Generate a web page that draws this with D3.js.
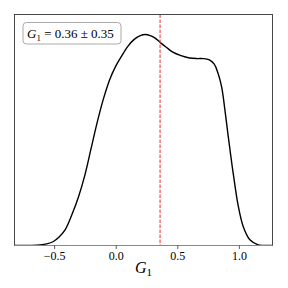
<!DOCTYPE html>
<html lang="en">
<head>
<meta charset="UTF-8">
<title>G1 KDE</title>
<script src="https://d3js.org/d3.v7.min.js"></script>
<style>
  body { margin: 0; background: #fff; }
</style>
</head>
<body>
<script>
// KDE curve of G1 (relative to the peak)
const gx = [-0.82, -0.75, -0.68, -0.614, -0.56, -0.506, -0.46, -0.41, -0.35, -0.3, -0.25, -0.2, -0.15,
  -0.1, -0.05, 0.0, 0.05, 0.1, 0.15, 0.2, 0.24, 0.28, 0.32, 0.36, 0.41, 0.46, 0.53, 0.6, 0.66, 0.71, 0.76,
  0.8, 0.83, 0.86, 0.886, 0.913, 0.94, 0.968, 0.994, 1.035, 1.089, 1.157, 1.2, 1.273];
const gy = [0, 0, 0.0005, 0.003, 0.008, 0.019, 0.04, 0.075, 0.155, 0.235, 0.335, 0.46, 0.585,
  0.695, 0.785, 0.85, 0.9, 0.945, 0.977, 0.995, 1.0, 0.995, 0.983, 0.963, 0.94, 0.918, 0.9, 0.889, 0.886, 0.886, 0.88,
  0.86, 0.818, 0.752, 0.645, 0.52, 0.4, 0.285, 0.19, 0.09, 0.027, 0.003, 0.0005, 0];
const peak = 0.95;
const meanG = 0.36, sdG = 0.35;
const xTicks = [-0.5, 0.0, 0.5, 1.0];

const W = 288, H = 288;
const m = {left: 14.5, right: 15.5, top: 14.5, bottom: 42.5};

const svg = d3.select('body').append('svg').attr('width', W).attr('height', H);

const x = d3.scaleLinear().domain([-0.822, 1.273]).range([m.left, W - m.right]);
const y = d3.scaleLinear().domain([0, 1.095 * peak]).range([H - m.bottom, m.top]);

const pts = gx.map((v, i) => ({x: v, y: gy[i] * peak}));

svg.append('defs').append('clipPath').attr('id', 'clip')
  .append('rect').attr('x', m.left).attr('y', m.top)
  .attr('width', W - m.left - m.right).attr('height', H - m.top - m.bottom);

const line = d3.line().x(d => x(d.x)).y(d => y(d.y)).curve(d3.curveCatmullRom.alpha(0.5));

svg.append('path').datum(pts)
  .attr('clip-path', 'url(#clip)')
  .attr('d', line)
  .attr('fill', 'none')
  .attr('stroke', '#000')
  .attr('stroke-width', 1.4);

// mean line
svg.append('line')
  .attr('x1', x(meanG)).attr('x2', x(meanG))
  .attr('y1', m.top).attr('y2', H - m.bottom)
  .attr('stroke', '#f04040')
  .attr('stroke-width', 1.1)
  .attr('stroke-dasharray', '3.5,1.5');

// frame
svg.append('rect')
  .attr('x', m.left).attr('y', m.top)
  .attr('width', W - m.left - m.right).attr('height', H - m.top - m.bottom)
  .attr('fill', 'none').attr('stroke', '#333').attr('stroke-width', 0.9);
svg.append('line')
  .attr('x1', m.left).attr('x2', W - m.right)
  .attr('y1', H - m.bottom).attr('y2', H - m.bottom)
  .attr('stroke', '#888').attr('stroke-width', 1.2);

// x axis
const xAxis = d3.axisBottom(x).tickValues(xTicks).tickSize(3.5).tickPadding(2)
  .tickFormat(d => d3.format('.1f')(d).replace('-', '\u2212'));
const gAx = svg.append('g').attr('transform', `translate(0,${H - m.bottom})`).call(xAxis);
gAx.attr('font-family', '"Liberation Serif", "DejaVu Serif", serif').attr('font-size', 12);
gAx.select('.domain').remove();
gAx.selectAll('line').attr('stroke', '#333').attr('stroke-width', 0.8);
gAx.selectAll('text').attr('fill', '#000');

// x label
const xl = svg.append('text')
  .attr('x', x(0.225)).attr('y', 273)
  .attr('text-anchor', 'middle')
  .style('font-family', '"Liberation Serif", serif')
  .style('font-size', '16px');
xl.append('tspan').style('font-style', 'italic').text('G');
xl.append('tspan').attr('dy', 3).style('font-size', '11px').text('1');

// annotation box
svg.append('rect')
  .attr('x', 23).attr('y', 22.5).attr('width', 98).attr('height', 21.5)
  .attr('rx', 3.5)
  .attr('fill', '#fff').attr('stroke', '#aaa').attr('stroke-width', 1);
const lab = svg.append('text')
  .attr('x', 27).attr('y', 38)
  .style('font-family', '"Liberation Serif", serif')
  .style('font-size', '13px');
lab.append('tspan').style('font-style', 'italic').text('G');
lab.append('tspan').attr('dy', 2.5).style('font-size', '9px').text('1');
lab.append('tspan').attr('dy', -2.5).text(` = ${meanG.toFixed(2)} \u00b1 ${sdG.toFixed(2)}`);
</script>
</body>
</html>
